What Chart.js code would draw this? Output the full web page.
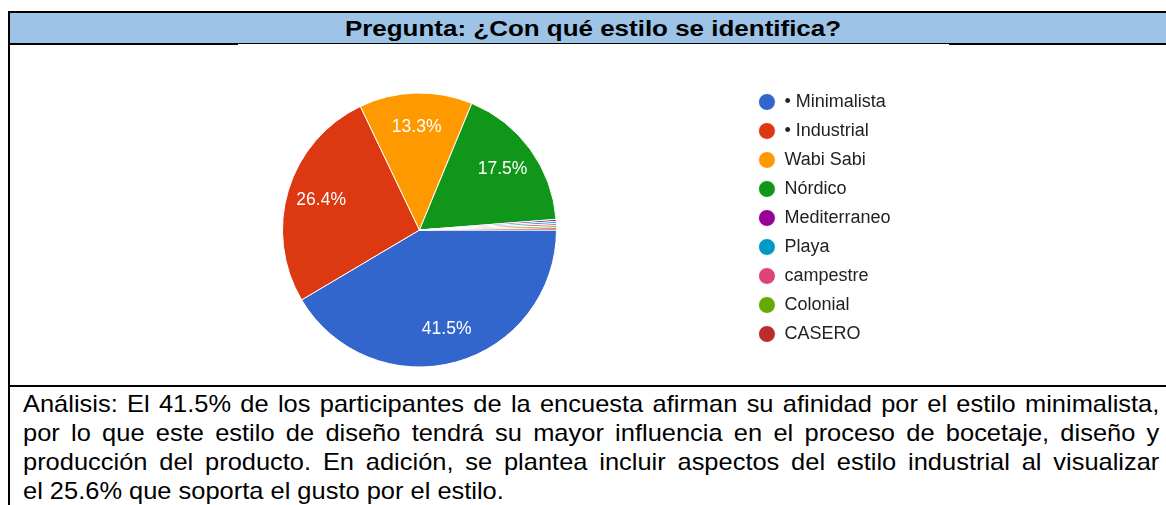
<!DOCTYPE html>
<html>
<head>
<meta charset="utf-8">
<script src="https://cdn.jsdelivr.net/npm/chart.js@4"></script>
<style>
  html, body { margin: 0; padding: 0; background: #fff; overflow: hidden; }
  body { width: 1166px; height: 505px; position: relative; font-family: "Liberation Sans", Arial, sans-serif; }
  .line { position: absolute; background: #000; }
  #header {
    position: absolute; left: 10px; top: 13px; width: 1166px; height: 30px;
    background: #9dc3e6;
  }
  #title {
    position: absolute; left: 193px; width: 800px; top: 14px; height: 30px; line-height: 30px;
    text-align: center; font-weight: bold; font-size: 22px; color: #000;
    transform: scaleX(1.18); transform-origin: 50% 50%;
  }
  #chartBox { position: absolute; left: 10px; top: 45px; width: 1156px; height: 340px; }
  #analysis {
    position: absolute; left: 23px; top: 389px; width: 1072px; font-size: 24px; line-height: 29px; color: #000;
    transform: scaleX(1.06); transform-origin: 0 0;
  }
  #analysis div { white-space: nowrap; }
  #analysis div.j { text-align: justify; text-align-last: justify; white-space: normal; }
</style>
</head>
<body>
<div id="header"></div>
<div id="title">Pregunta: ¿Con qué estilo se identifica?</div>
<div class="line" style="left:8px;top:11px;width:1158px;height:2px"></div>
<div class="line" style="left:8px;top:11px;width:2px;height:494px"></div>
<div class="line" style="left:10px;top:43px;width:228px;height:2px"></div>
<div class="line" style="left:238px;top:43px;width:711px;height:1px"></div>
<div class="line" style="left:949px;top:43px;width:217px;height:2px"></div>
<div class="line" style="left:10px;top:385px;width:1156px;height:2px"></div>

<div id="chartBox"><canvas id="pie"></canvas></div>

<div id="analysis">
  <div class="j">Análisis: El 41.5% de los participantes de la encuesta afirman su afinidad por el estilo minimalista,</div>
  <div class="j">por lo que este estilo de diseño tendrá su mayor influencia en el proceso de bocetaje, diseño y</div>
  <div class="j">producción del producto. En adición, se plantea incluir aspectos del estilo industrial al visualizar</div>
  <div>el 25.6% que soporta el gusto por el estilo.</div>
</div>

<script>
// respuestas por estilo (405 en total)
const estilos = ['• Minimalista', '• Industrial', 'Wabi Sabi', 'Nórdico', 'Mediterraneo', 'Playa', 'campestre', 'Colonial', 'CASERO'];
const respuestas = [168, 107, 54, 71, 1, 1, 1, 1, 1];
const colores = ['#3366cc', '#dc3912', '#ff9900', '#109618', '#990099', '#0099c6', '#dd4477', '#66aa00', '#b82e2e'];

// etiquetas de porcentaje dentro de las porciones grandes
const etiquetasPct = {
  id: 'etiquetasPct',
  afterDatasetsDraw(chart) {
    const ctx = chart.ctx;
    const meta = chart.getDatasetMeta(0);
    const total = respuestas.reduce((a, b) => a + b, 0);
    ctx.save();
    ctx.fillStyle = '#ffffff';
    ctx.font = '17.5px "Liberation Sans", Arial, sans-serif';
    ctx.textAlign = 'center';
    ctx.textBaseline = 'middle';
    meta.data.forEach((arc, i) => {
      const pct = respuestas[i] / total * 100;
      if (pct < 5) return;
      const p = arc.getProps(['x', 'y', 'startAngle', 'endAngle', 'outerRadius'], true);
      const mid = (p.startAngle + p.endAngle) / 2;
      const r = p.outerRadius * 0.75;
      ctx.fillText(pct.toFixed(1) + '%', p.x + Math.cos(mid) * r, p.y + Math.sin(mid) * r);
    });
    ctx.restore();
  }
};

new Chart(document.getElementById('pie'), {
  type: 'pie',
  data: {
    labels: estilos,
    datasets: [{
      data: respuestas,
      backgroundColor: colores,
      borderColor: '#ffffff',
      borderWidth: 1
    }]
  },
  options: {
    responsive: true,
    maintainAspectRatio: false,
    animation: false,
    rotation: 90,
    radius: 137,
    layout: { padding: { left: 81.5, right: 265.5, top: 37, bottom: 7 } },
    plugins: {
      tooltip: { enabled: false },
      legend: {
        position: 'right',
        align: 'start',
        labels: {
          usePointStyle: true,
          pointStyle: 'circle',
          boxHeight: 12,
          pointStyleWidth: 17,
          padding: 11,
          color: '#222222',
          font: { size: 18, family: '"Liberation Sans", Arial, sans-serif' }
        }
      }
    }
  },
  plugins: [etiquetasPct]
});
</script>
</body>
</html>
